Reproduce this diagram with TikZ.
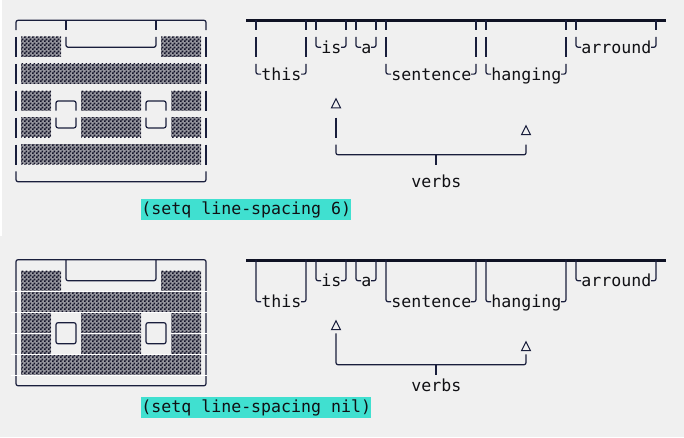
\documentclass[tikz,border=0pt]{standalone}
\usepackage{fontspec}
\newfontfamily\dmono{DejaVu Sans Mono}
\usetikzlibrary{patterns.meta}
\definecolor{bg}{HTML}{F0F0F0}
\definecolor{lc}{RGB}{25,30,60}
\definecolor{tc}{RGB}{16,16,20}
\definecolor{chkc}{RGB}{18,18,40}
\definecolor{chkb}{RGB}{150,150,158}
\definecolor{hl}{HTML}{40E0D0}
\pgfdeclarepattern{
  name=chk, type=uncolored,
  bottom left={\pgfpoint{0pt}{0pt}},
  top right={\pgfpoint{3pt}{3pt}},
  tile size={\pgfpoint{3pt}{3pt}},
  code={
    \pgfpathrectangle{\pgfpoint{0pt}{0pt}}{\pgfpoint{1.5pt}{1.5pt}}
    \pgfpathrectangle{\pgfpoint{1.5pt}{1.5pt}}{\pgfpoint{1.5pt}{1.5pt}}
    \pgfusepath{fill}
  }
}
\tikzset{
  ln/.style={draw=lc, line width=0.9pt, rounded corners=1.5pt},
  heavy/.style={draw=lc!60!black, line width=2.25pt},
  tri/.style={draw=lc, line width=0.75pt, line join=miter},
  shade/.style={fill=chkb, postaction={pattern={chk}, pattern color=chkc}},
  gap/.style={draw=white, line width=0.6pt},
  txt/.style={font=\dmono\fontsize{12.456pt}{14pt}\selectfont, inner sep=0pt, text=tc, anchor=base west},
  hlbox/.style={fill=hl},
}
\begin{document}
\begin{tikzpicture}[x=0.75pt, y=-0.75pt]
\useasboundingbox (0,0) rectangle (684,437);
\fill[bg] (0,0) rectangle (684,437);
\fill[white] (0,0) rectangle (2,236);

% ================= TOP (line-spacing 6) =================
\path[shade] (21,36.7) rectangle (61,56.7);
\path[shade] (161,36.7) rectangle (201,56.7);
\path[shade] (21,63.6) rectangle (201,83.6);
\path[shade] (21,90.5) rectangle (51,110.5);
\path[shade] (81,90.5) rectangle (141,110.5);
\path[shade] (171,90.5) rectangle (201,110.5);
\path[shade] (21,117.4) rectangle (51,137.4);
\path[shade] (81,117.4) rectangle (141,137.4);
\path[shade] (171,117.4) rectangle (201,137.4);
\path[shade] (21,144.3) rectangle (201,164.3);
\draw[ln] (16,30.0) -- (16,20.3) -- (206,20.3) -- (206,30.0);
\draw[ln] (66,20.3) -- (66,30.0);
\draw[ln] (156,20.3) -- (156,30.0);
\foreach \ya/\yb in {36.9/56.9, 63.8/83.8, 90.7/110.7, 117.6/137.6, 144.5/164.5}{
  \draw[ln] (16,\ya) -- (16,\yb);
  \draw[ln] (206,\ya) -- (206,\yb);
}
\draw[ln] (66,36.9) -- (66,47.2) -- (156,47.2) -- (156,36.9);
\draw[ln] (56,110.7) -- (56,101) -- (76,101) -- (76,110.7);
\draw[ln] (146,110.7) -- (146,101) -- (166,101) -- (166,110.7);
\draw[ln] (56,117.6) -- (56,127.9) -- (76,127.9) -- (76,117.6);
\draw[ln] (146,117.6) -- (146,127.9) -- (166,127.9) -- (166,117.6);
\draw[ln] (16,171.4) -- (16,181.7) -- (206,181.7) -- (206,171.4);

\draw[heavy] (246,20.3) -- (666,20.3);
\foreach \x in {256,306,316,346,356,376,386,476,486,566,576,656}{
  \draw[ln] (\x,20.3) -- (\x,30.0);
}
\foreach \x in {256,306,386,476,486,566}{
  \draw[ln] (\x,36.9) -- (\x,56.9);
}
\foreach \xa/\xb in {316/346, 356/376, 576/656}{
  \draw[ln] (\xa,36.9) -- (\xa,47.2) -- (\xa+5,47.2);
  \draw[ln] (\xb-5,47.2) -- (\xb,47.2) -- (\xb,36.9);
}
\foreach \xa/\xb in {256/306, 386/476, 486/566}{
  \draw[ln] (\xa,63.8) -- (\xa,74.1) -- (\xa+5,74.1);
  \draw[ln] (\xb-5,74.1) -- (\xb,74.1) -- (\xb,63.8);
}
\draw[tri] (336,98.8) -- (340.5,107.8) -- (331.5,107.8) -- cycle;
\draw[ln] (336,117.6) -- (336,137.6);
\draw[tri] (526,125.7) -- (530.5,134.7) -- (521.5,134.7) -- cycle;
\draw[ln] (336,144.5) -- (336,154.8) -- (526,154.8) -- (526,144.5);
\draw[ln] (436,154.8) -- (436,164.5);

\node[txt] (t1is) at (321,53.2) {is};
\node[txt] (t1a) at (361,53.2) {a};
\node[txt] (t1arround) at (581,53.2) {arround};
\node[txt] (t1this) at (261,80.1) {this};
\node[txt] (t1sentence) at (391,80.1) {sentence};
\node[txt] (t1hanging) at (491,80.1) {hanging};
\node[txt] (t1verbs) at (411,187.7) {verbs};
\fill[hlbox] (141,199.3) rectangle (351,220);
\node[txt] (t1setq) at (141,214.6) {(setq line-spacing 6)};

% ================= BOTTOM (line-spacing nil) =================
\path[shade] (21,270.7) rectangle (61,291.7);
\path[shade] (161,270.7) rectangle (201,291.7);
\path[shade] (21,291.7) rectangle (201,312.7);
\path[shade] (21,312.7) rectangle (51,354.7);
\path[shade] (81,312.7) rectangle (141,354.7);
\path[shade] (171,312.7) rectangle (201,354.7);
\path[shade] (21,354.7) rectangle (201,375.7);
\draw[ln] (16,259.7) rectangle (206,385.7);
\draw[ln] (66,259.7) -- (66,280.7) -- (156,280.7) -- (156,259.7);
\draw[ln] (56,322.7) rectangle (76,343.7);
\draw[ln] (146,322.7) rectangle (166,343.7);
\foreach \y in {291.7, 312.7, 354.7, 375.7}{
  \draw[gap] (11,\y) -- (207,\y);
}
\draw[gap] (11,333.7) -- (51,333.7);
\draw[gap] (81,333.7) -- (141,333.7);
\draw[gap] (171,333.7) -- (207,333.7);

\draw[heavy] (246,260) -- (666,260);
\foreach \xa/\xb in {316/346, 356/376, 576/656}{
  \draw[ln] (\xa,259.7) -- (\xa,280.7) -- (\xa+5,280.7);
  \draw[ln] (\xb-5,280.7) -- (\xb,280.7) -- (\xb,259.7);
}
\foreach \xa/\xb in {256/306, 386/476, 486/566}{
  \draw[ln] (\xa,259.7) -- (\xa,301.7) -- (\xa+5,301.7);
  \draw[ln] (\xb-5,301.7) -- (\xb,301.7) -- (\xb,259.7);
}
\draw[tri] (336,320.7) -- (340.5,329.7) -- (331.5,329.7) -- cycle;
\draw[tri] (526,341.7) -- (530.5,350.7) -- (521.5,350.7) -- cycle;
\draw[ln] (336,333.4) -- (336,364.7) -- (526,364.7) -- (526,354.3);
\draw[ln] (436,364.7) -- (436,375.2);

\node[txt] (t2is) at (321,286.3) {is};
\node[txt] (t2a) at (361,286.3) {a};
\node[txt] (t2arround) at (581,286.3) {arround};
\node[txt] (t2this) at (261,307.3) {this};
\node[txt] (t2sentence) at (391,307.3) {sentence};
\node[txt] (t2hanging) at (491,307.3) {hanging};
\node[txt] (t2verbs) at (411,391.3) {verbs};
\fill[hlbox] (141,396.7) rectangle (371,417.7);
\node[txt] (t2setq) at (141,412.3) {(setq line-spacing nil)};
\end{tikzpicture}
\end{document}
